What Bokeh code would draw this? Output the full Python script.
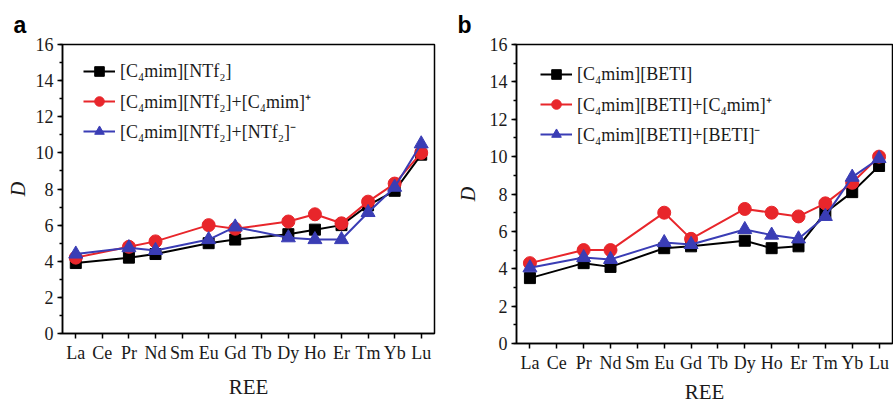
from bokeh.plotting import figure
from bokeh.layouts import row, column
from bokeh.models import FactorRange, Range1d, SingleIntervalTicker, Title
from bokeh.embed import file_html
from bokeh.resources import INLINE

ree = ["La", "Ce", "Pr", "Nd", "Sm", "Eu", "Gd", "Tb", "Dy", "Ho", "Er", "Tm", "Yb", "Lu"]
measured = ["La", "Pr", "Nd", "Eu", "Gd", "Dy", "Ho", "Er", "Tm", "Yb", "Lu"]

# panel a: [C4mim][NTf2] system
a_il = [3.9, 4.2, 4.4, 5.0, 5.2, 5.5, 5.75, 6.0, 7.1, 7.9, 9.9]
a_cation = [4.2, 4.8, 5.1, 6.0, 5.8, 6.2, 6.6, 6.1, 7.3, 8.3, 10.0]
a_anion = [4.4, 4.75, 4.6, 5.2, 5.9, 5.3, 5.2, 5.2, 6.7, 8.1, 10.5]
a_labels = ["[C\u2084mim][NTf\u2082]",
            "[C\u2084mim][NTf\u2082]+[C\u2084mim]\u207a",
            "[C\u2084mim][NTf\u2082]+[NTf\u2082]\u207b"]

# panel b: [C4mim][BETI] system
b_il = [3.5, 4.3, 4.1, 5.1, 5.2, 5.5, 5.1, 5.2, 7.0, 8.1, 9.5]
b_cation = [4.3, 5.0, 5.0, 7.0, 5.6, 7.2, 7.0, 6.8, 7.5, 8.6, 10.0]
b_anion = [4.05, 4.6, 4.5, 5.4, 5.3, 6.1, 5.8, 5.6, 6.8, 8.9, 9.9]
b_labels = ["[C\u2084mim][BETI]",
            "[C\u2084mim][BETI]+[C\u2084mim]\u207a",
            "[C\u2084mim][BETI]+[BETI]\u207b"]

x_title = "REE"
y_title = "D"
y_ticks_interval = 2
COLORS = ["#000000", "#e8262b", "#3a3db5"]
MARKERS = ["square", "circle", "triangle"]
SIZES = [11, 13, 14]
SERIF = "Liberation Serif"
TXT = "#1a1a1a"


def make_panel(letter, series, labels, width, height, bl, br, bt, bb,
               title_offset, ylab_standoff, legend_loc, xlab_standoff, line_h):
    p = figure(width=width, height=height, x_range=FactorRange(*ree, range_padding=0),
               y_range=Range1d(0, 16), output_backend="svg", toolbar_location=None,
               min_border_left=bl, min_border_right=br, min_border_top=bt, min_border_bottom=bb,
               background_fill_color="white", border_fill_color="white")
    p.title = Title(text=letter, align="left", offset=title_offset, standoff=13,
                    text_font="Liberation Sans", text_font_style="bold",
                    text_font_size="23px", text_color="black")
    p.xgrid.visible = False
    p.ygrid.visible = False
    p.outline_line_color = "black"
    p.outline_line_width = 1.5
    for vals, lab, col, mk, sz in zip(series, labels, COLORS, MARKERS, SIZES):
        p.line(measured, vals, line_color=col, line_width=2, legend_label=lab)
        p.scatter(measured, vals, marker=mk, size=sz, fill_color=col, line_color=col,
                  legend_label=lab)
    p.yaxis.ticker = SingleIntervalTicker(interval=y_ticks_interval, num_minor_ticks=2)
    for ax in (p.xaxis[0], p.yaxis[0]):
        ax.axis_line_width = 1.5
        ax.major_tick_line_width = 1.5
        ax.minor_tick_line_width = 1.5
        ax.major_tick_out = 5
        ax.major_tick_in = 0
        ax.minor_tick_out = 3
        ax.minor_tick_in = 0
        ax.major_label_text_font = SERIF
        ax.major_label_text_font_size = "18px"
        ax.major_label_text_color = TXT
        ax.axis_label_text_font = SERIF
        ax.axis_label_text_color = TXT
    p.yaxis.axis_label = y_title
    p.yaxis.axis_label_text_font_style = "italic"
    p.yaxis.axis_label_text_font_size = "20px"
    p.yaxis.axis_label_standoff = ylab_standoff
    p.yaxis.major_label_standoff = 4
    p.xaxis.axis_label = x_title
    p.xaxis.axis_label_text_font_style = "normal"
    p.xaxis.axis_label_text_font_size = "21px"
    p.xaxis.axis_label_standoff = xlab_standoff
    p.xaxis.major_label_standoff = 4
    p.xaxis.axis_label_text_line_height = line_h
    p.xaxis.major_label_text_line_height = line_h

    lg = p.legend[0]
    lg.location = legend_loc
    lg.border_line_color = None
    lg.background_fill_alpha = 0
    lg.label_text_font = SERIF
    lg.label_text_font_size = "18px"
    lg.label_text_color = TXT
    lg.glyph_width = 32
    lg.glyph_height = 24
    lg.label_height = 24
    lg.spacing = 6
    lg.margin = 0
    lg.padding = 0
    lg.label_standoff = 5
    return p


pa = make_panel("a", [a_il, a_cation, a_anion], a_labels, 445, 406, 62, 11, 44, 73,
                -49, 4, (21, 190), 9, 1.2)
pb = make_panel("b", [b_il, b_cation, b_anion], b_labels, 448, 406, 71, 1, 44, 62,
                -59, 8, (24, 197), 4, 1.0)

layout = row(column(pa), column(pb))
open("out.html", "w").write(file_html(layout, INLINE))
